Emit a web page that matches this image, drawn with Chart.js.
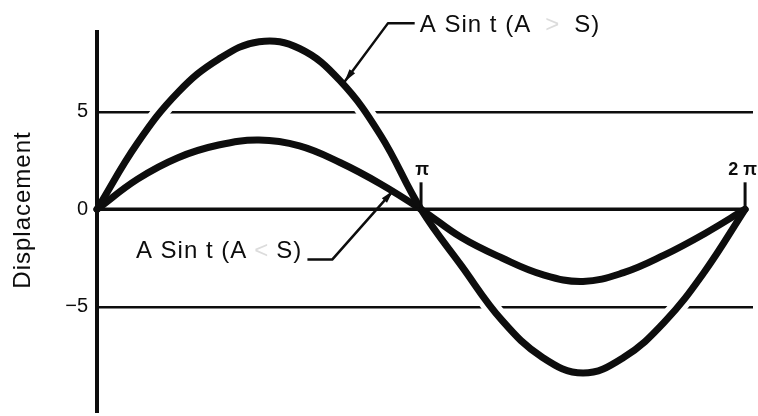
<!DOCTYPE html>
<html>
<head>
<meta charset="utf-8">
<script src="https://cdn.jsdelivr.net/npm/chart.js@4.4.1/dist/chart.umd.min.js"></script>
<style>
  html, body { margin: 0; padding: 0; background: #fff; }
  #wrap { width: 758px; height: 416px; }
</style>
</head>
<body>
<div id="wrap"><canvas id="dispChart"></canvas></div>
<script>
// t in radians, one point every pi/8 from 0 to 2pi
const tValues = [0, 0.393, 0.785, 1.178, 1.571, 1.963, 2.356, 2.749, 3.142,
                 3.534, 3.927, 4.320, 4.712, 5.105, 5.498, 5.890, 6.283];
// displacement, A > S (large swing)
const bigWave = [0, 3.4, 6.0, 7.7, 8.6, 8.25, 6.6, 3.8, 0,
                 -2.9, -5.7, -7.6, -8.4, -7.6, -5.8, -3.2, 0];
// displacement, A < S (small swing)
const smallWave = [0, 1.55, 2.65, 3.3, 3.55, 3.25, 2.4, 1.3, 0,
                   -1.45, -2.5, -3.35, -3.7, -3.25, -2.35, -1.25, 0];
const yTicks = [-5, 0, 5];
const xMarks = [{ t: Math.PI, label: 'π' }, { t: 2 * Math.PI, label: '2 π' }];
const waveLabels = ['A Sin t (A', '>', 'S)', 'A Sin t (A', '<', 'S)'];

const INK = '#0d0d0d';
const FONT = "'Liberation Sans', Arial, Helvetica, sans-serif";

const pts = vals => vals.map((v, i) => ({ x: tValues[i], y: v }));

function wave(vals, white) {
    return {
        data: pts(vals),
        borderColor: white ? '#fff' : INK,
        borderWidth: white ? 17 : 7,
        borderCapStyle: 'round',
        borderJoinStyle: 'round',
        tension: 0.4,
        pointRadius: 0,
        fill: false,
        order: white ? 2 : 1,
        clip: white ? 0 : 6
    };
}

// label in three pieces, the middle symbol printed faintly
function drawLabel(ctx, parts, x, y, align, gap) {
    ctx.font = '24px ' + FONT;
    ctx.letterSpacing = '1px';
    const w0 = ctx.measureText(parts[0]).width;
    const w1 = ctx.measureText(parts[1]).width;
    const w2 = ctx.measureText(parts[2]).width;
    const total = w0 + gap + w1 + gap + w2;
    let sx = align === 'right' ? x - total : x;
    ctx.textAlign = 'left';
    ctx.textBaseline = 'alphabetic';
    ctx.fillStyle = INK;
    ctx.fillText(parts[0], sx, y);
    ctx.fillStyle = '#dcdcdc';
    ctx.fillText(parts[1], sx + w0 + gap, y);
    ctx.fillStyle = INK;
    ctx.fillText(parts[2], sx + w0 + gap + w1 + gap, y);
    ctx.letterSpacing = '0px';
}

function leader(ctx, pts) {
    ctx.strokeStyle = INK;
    ctx.lineWidth = 2.5;
    ctx.lineJoin = 'round';
    ctx.beginPath();
    ctx.moveTo(pts[0][0], pts[0][1]);
    for (let i = 1; i < pts.length; i++) ctx.lineTo(pts[i][0], pts[i][1]);
    ctx.stroke();
    // small arrowhead at the curve end
    const [ex, ey] = pts[pts.length - 1];
    const [px, py] = pts[pts.length - 2];
    const a = Math.atan2(ey - py, ex - px);
    ctx.fillStyle = INK;
    ctx.beginPath();
    ctx.moveTo(ex, ey);
    ctx.lineTo(ex - 13 * Math.cos(a) + 3.5 * Math.sin(a), ey - 13 * Math.sin(a) - 3.5 * Math.cos(a));
    ctx.lineTo(ex - 13 * Math.cos(a) - 3.5 * Math.sin(a), ey - 13 * Math.sin(a) + 3.5 * Math.cos(a));
    ctx.closePath();
    ctx.fill();
}

const decorations = {
    id: 'decorations',
    afterDatasetsDraw(chart) {
        const { ctx, chartArea: area, scales: { x, y } } = chart;
        const X = v => x.getPixelForValue(v);
        const Y = v => y.getPixelForValue(v);
        ctx.save();

        // vertical axis
        ctx.strokeStyle = INK;
        ctx.lineWidth = 4;
        ctx.beginPath();
        ctx.moveTo(area.left, area.top);
        ctx.lineTo(area.left, area.bottom);
        ctx.stroke();

        // zero line up to 2pi
        ctx.lineWidth = 3.5;
        ctx.beginPath();
        ctx.moveTo(area.left, Y(0));
        ctx.lineTo(X(2 * Math.PI), Y(0));
        ctx.stroke();

        // pi and 2pi marks
        ctx.font = 'bold 18px ' + FONT;
        ctx.fillStyle = INK;
        ctx.textBaseline = 'middle';
        xMarks.forEach((m, i) => {
            const px = X(m.t);
            ctx.lineWidth = 3;
            ctx.beginPath();
            ctx.moveTo(px, Y(0));
            ctx.lineTo(px, Y(0) - 27);
            ctx.stroke();
            ctx.textAlign = i === 0 ? 'center' : 'right';
            ctx.fillText(m.label, i === 0 ? px + 1 : px + 12, Y(0) - 39);
        });

        // leader for the large wave
        leader(ctx, [[X(3.08), Y(9.54)], [X(2.82), Y(9.54)], [X(2.40), Y(6.55)]]);
        drawLabel(ctx, waveLabels.slice(0, 3), X(3.13), Y(9.54) + 9, 'left', 14);

        // leader for the small wave
        leader(ctx, [[X(2.04), Y(-2.58)], [X(2.28), Y(-2.58)], [X(2.87), Y(0.95)]]);
        drawLabel(ctx, waveLabels.slice(3, 6), X(1.99), Y(-2.5), 'right', 7);

        // axis title
        ctx.translate(23, 210);
        ctx.rotate(-Math.PI / 2);
        ctx.font = '24px ' + FONT;
        ctx.letterSpacing = '1px';
        ctx.textAlign = 'center';
        ctx.textBaseline = 'middle';
        ctx.fillStyle = INK;
        ctx.fillText('Displacement', 0, 0);
        ctx.restore();
    }
};

new Chart(document.getElementById('dispChart'), {
    type: 'line',
    data: {
        datasets: [wave(bigWave), wave(smallWave), wave(bigWave, true), wave(smallWave, true)]
    },
    options: {
        responsive: true,
        maintainAspectRatio: false,
        animation: false,
        events: [],
        layout: { padding: { top: 30, right: 5, bottom: 3, left: 0 } },
        plugins: { legend: { display: false }, tooltip: { enabled: false } },
        scales: {
            x: {
                type: 'linear',
                display: false,
                min: 0,
                max: 6.36
            },
            y: {
                min: -10.45,
                max: 9.2,
                afterFit: s => {
                    s.width = 97;
                    s.paddingTop = 0;
                    s.paddingBottom = 0;
                },
                afterBuildTicks: s => { s.ticks = yTicks.map(v => ({ value: v })); },
                border: { display: false },
                grid: {
                    drawTicks: false,
                    lineWidth: 2.5,
                    color: c => (c.tick && c.tick.value === 0 ? 'rgba(0,0,0,0)' : INK)
                },
                ticks: {
                    padding: 9,
                    color: INK,
                    font: { family: FONT, size: 20 },
                    callback: v => (v < 0 ? '\u2212' + Math.abs(v) : String(v))
                }
            }
        }
    },
    plugins: [decorations]
});
</script>
</body>
</html>
